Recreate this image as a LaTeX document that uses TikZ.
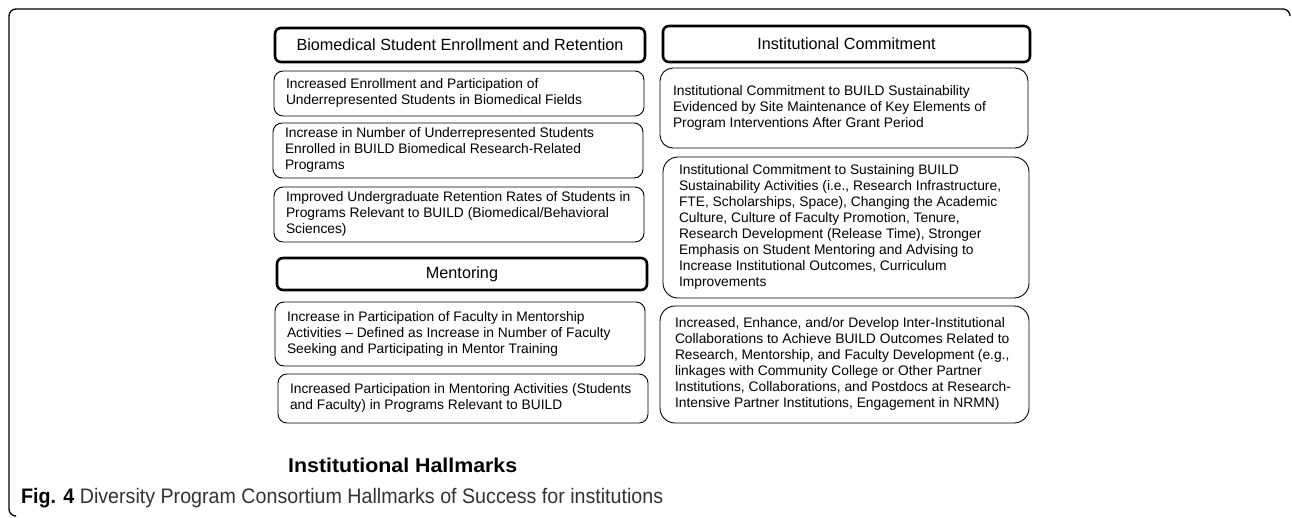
\documentclass[tikz,border=0pt]{standalone}
\usepackage{fontspec}
\usepackage{graphicx}
\setmainfont{Liberation Sans}
\begin{document}
\begin{tikzpicture}[x=1pt,y=-1pt,
  headbox/.style={draw=black, line width=2.6pt, rounded corners=6pt, inner sep=0pt, outer sep=0pt,
    font=\fontsize{16.2}{19}\selectfont},
  itembox/.style={draw=black, line width=0.9pt, inner ysep=0pt, outer sep=0pt,
    font=\fontsize{13.8}{16}\selectfont},
  frameline/.style={draw=black, line width=1.3pt, rounded corners=7pt}
]
\useasboundingbox (0,0) rectangle (1292,517);
\newcommand{\itm}[8]{%
  \node[itembox, rounded corners=#8pt, inner xsep=#6pt, minimum width=#4pt, minimum height=#5pt] (#1) at (#2,#3)
  {\makebox[\dimexpr #4pt - #6pt - #6pt\relax][l]{\begin{tabular}{@{}l@{}}#7\end{tabular}}};}

% outer frame
\coordinate (fA) at (14,516);
\coordinate (fB) at (9,516);
\coordinate (fC) at (9,9);
\coordinate (fD) at (1290,9);
\coordinate (fE) at (1290,16);
\draw[frameline] (fA) -- (fB) -- (fC) -- (fD) -- (fE);

% headers
\node[headbox, minimum width=370pt, minimum height=34pt] (hbio) at (460,45) {Biomedical Student Enrollment and Retention};
\node[headbox, minimum width=370pt, minimum height=32pt] (hmen) at (462,274) {Mentoring};
\node[headbox, minimum width=367pt, minimum height=36pt] (hcom) at (846.5,44) {Institutional Commitment};

% left column items
\itm{la}{459}{93.5}{370}{45}{12}{Increased Enrollment and Participation of\\Underrepresented Students in Biomedical Fields}{9}
\itm{lb}{458}{150.5}{370}{55}{12}{Increase in Number of Underrepresented Students\\Enrolled in BUILD Biomedical Research-Related\\Programs}{9}
\itm{lc}{459}{214.5}{370}{55}{12}{Improved Undergraduate Retention Rates of Students in\\Programs Relevant to BUILD (Biomedical/Behavioral\\Sciences)}{9}
\itm{ld}{460}{334}{370}{64}{12}{Increase in Participation of Faculty in Mentorship\\Activities -- Defined as Increase in Number of Faculty\\Seeking and Participating in Mentor Training}{9}
\itm{le}{463}{398.5}{370}{49}{12}{Increased Participation in Mentoring Activities (Students\\and Faculty) in Programs Relevant to BUILD}{9}

% right column items
\itm{ra}{844}{108}{368}{80}{13}{Institutional Commitment to BUILD Sustainability\\Evidenced by Site Maintenance of Key Elements of\\Program Interventions After Grant Period}{13}
\itm{rb}{846}{227.5}{366}{141}{16}{Institutional Commitment to Sustaining BUILD\\Sustainability Activities (i.e., Research Infrastructure,\\FTE, Scholarships, Space), Changing the Academic\\Culture, Culture of Faculty Promotion, Tenure,\\Research Development (Release Time), Stronger\\Emphasis on Student Mentoring and Advising to\\Increase Institutional Outcomes, Curriculum\\Improvements}{15}
\itm{rc}{844.5}{364.5}{369}{117}{15}{Increased, Enhance, and/or Develop Inter-Institutional\\Collaborations to Achieve BUILD Outcomes Related to\\Research, Mentorship, and Faculty Development (e.g.,\\linkages with Community College or Other Partner\\Institutions, Collaborations, and Postdocs at Research-\\Intensive Partner Institutions, Engagement in NRMN)}{15}

% titles
\node[anchor=base west, inner sep=0pt] (hall) at (288,472)
  {\resizebox{229pt}{\height}{\fontsize{20}{22}\selectfont\bfseries Institutional Hallmarks}};
\node[anchor=base west, inner sep=0pt] (cap) at (21,503)
  {\resizebox{642pt}{\height}{\fontsize{21}{24}\selectfont\textbf{Fig. 4} \textcolor{black!80}{Diversity Program Consortium Hallmarks of Success for institutions}}};
\end{tikzpicture}
\end{document}
